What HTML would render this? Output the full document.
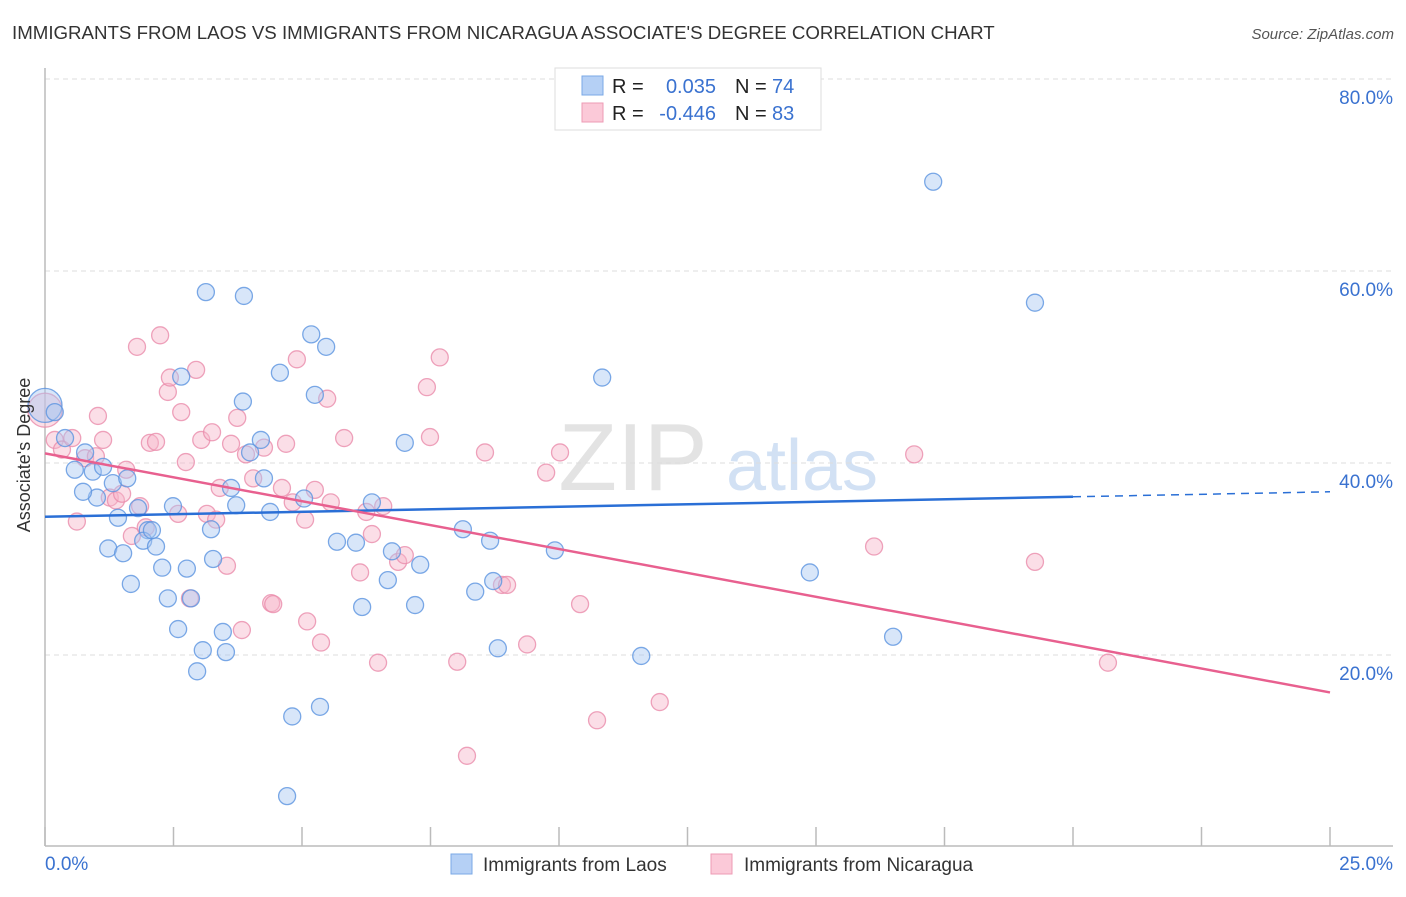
<!DOCTYPE html>
<html><head><meta charset="utf-8"><style>
body{margin:0;background:#fff;width:1406px;height:892px;overflow:hidden;font-family:"Liberation Sans",sans-serif}
svg text{font-family:"Liberation Sans",sans-serif}
</style></head><body>
<svg id="chart" width="1406" height="892">
<text x="12" y="39" font-size="18.7" fill="#333">IMMIGRANTS FROM LAOS VS IMMIGRANTS FROM NICARAGUA ASSOCIATE'S DEGREE CORRELATION CHART</text>
<text x="1394" y="39" font-size="15" fill="#555" font-style="italic" text-anchor="end">Source: ZipAtlas.com</text>
<g>
<text x="633" y="490" font-size="96" fill="#ddd" font-family="Liberation Serif" text-anchor="middle" opacity="0.8">ZIP</text>
<text x="802" y="490" font-size="72" fill="#c8daf2" text-anchor="middle" opacity="0.8">atlas</text>
</g>
<g id="grid"></g>
<g id="axes"></g>
<g id="points"></g>
<g id="lines"></g>
<text x="30" y="455" font-size="18" fill="#333" text-anchor="middle" transform="rotate(-90 30 455)">Associate's Degree</text>
<g>
<rect x="555" y="68" width="266" height="62" fill="#fff" stroke="#ddd"/>
<rect x="582" y="76" width="21" height="19" fill="#b5d0f5" stroke="#7aa8e6"/>
<rect x="582" y="103" width="21" height="19" fill="#fbc9d8" stroke="#ee9bb5"/>
<text x="612" y="93" font-size="20" fill="#222">R =</text>
<text x="716" y="93" font-size="20" fill="#3a72d0" text-anchor="end">0.035</text>
<text x="735" y="93" font-size="20" fill="#222">N =</text>
<text x="772" y="93" font-size="20" fill="#3a72d0">74</text>
<text x="612" y="120" font-size="20" fill="#222">R =</text>
<text x="716" y="120" font-size="20" fill="#3a72d0" text-anchor="end">-0.446</text>
<text x="735" y="120" font-size="20" fill="#222">N =</text>
<text x="772" y="120" font-size="20" fill="#3a72d0">83</text>
</g>
<g>
<rect x="451" y="854" width="21" height="20" fill="#b5d0f5" stroke="#7aa8e6"/>
<text x="483" y="871" font-size="19" fill="#333">Immigrants from Laos</text>
<rect x="711" y="854" width="21" height="20" fill="#fbc9d8" stroke="#ee9bb5"/>
<text x="744" y="871" font-size="19" fill="#333">Immigrants from Nicaragua</text>
</g>
</svg>
<script>
const xTicks=[0,2.5,5,7.5,10,12.5,15,17.5,20,22.5,25];
const yTicks=[20,40,60,80];
const yTickLabels=["20.0%","40.0%","60.0%","80.0%"];
const laosX=[0,0.19,0.39,0.58,0.78,0.93,1.13,1.01,0.74,1.32,1.60,1.42,1.23,1.52,1.67,1.81,2.00,1.91,2.08,2.16,2.28,2.39,2.49,2.59,2.65,2.76,2.84,2.96,3.07,3.13,3.23,3.27,3.46,3.52,3.62,3.72,3.85,3.87,3.99,4.20,4.26,4.38,4.57,4.71,4.81,5.04,5.18,5.25,5.35,5.47,5.68,6.05,6.17,6.36,6.67,6.75,7.00,7.20,7.30,8.13,8.37,8.66,8.72,8.81,9.92,10.84,11.60,14.88,16.50,17.28,19.26];
const laosY=[46.0,45.3,42.6,39.3,41.1,39.1,39.6,36.4,37.0,37.9,38.4,34.3,31.1,30.6,27.4,35.3,33.0,31.9,33.0,31.3,29.1,25.9,35.5,22.7,49.0,29.0,25.9,18.3,20.5,57.8,33.1,30.0,22.4,20.3,37.4,35.6,46.4,57.4,41.1,42.4,38.4,34.9,49.4,5.3,13.6,36.3,53.4,47.1,14.6,52.1,31.8,31.7,25.0,35.9,27.8,30.8,42.1,25.2,29.4,33.1,26.6,31.9,27.7,20.7,30.9,48.9,19.9,28.6,21.9,69.3,56.7];
const nicX=[0,0.19,0.33,0.53,0.62,0.78,0.99,1.03,1.13,1.26,1.38,1.50,1.58,1.69,1.85,2.04,1.96,2.16,2.24,1.79,2.39,2.43,2.59,2.65,2.74,2.82,2.94,3.04,3.15,3.25,3.33,3.40,3.54,3.62,3.74,3.83,3.91,4.05,4.26,4.40,4.44,4.61,4.69,4.82,4.90,5.06,5.10,5.25,5.37,5.49,5.56,5.82,6.13,6.25,6.36,6.48,6.58,6.87,7.00,7.43,7.49,7.68,8.02,8.21,8.56,8.89,8.99,9.38,9.75,10.02,10.41,10.74,11.96,16.13,16.91,19.26,20.68];
const nicY=[45.5,42.4,41.4,42.6,33.9,40.5,40.7,44.9,42.4,36.4,36.1,36.8,39.3,32.4,35.5,42.1,33.3,42.2,53.3,52.1,47.4,48.9,34.7,45.3,40.1,25.9,49.7,42.4,34.7,43.2,34.1,37.4,29.3,42.0,44.7,22.6,40.9,38.4,41.6,25.4,25.3,37.4,42.0,35.9,50.8,34.1,23.5,37.2,21.3,46.7,35.9,42.6,28.6,34.9,32.6,19.2,35.5,29.7,30.4,47.9,42.7,51.0,19.3,9.5,41.1,27.3,27.3,21.1,39.0,41.1,25.3,13.2,15.1,31.3,40.9,29.7,19.2];
const laosTrend=[34.4,37.0];
const nicTrend=[41.0,16.1];
const NS="http://www.w3.org/2000/svg";
const X=v=>45+v*51.4, Y=v=>847-v*9.6;
function mk(tag,attrs,parent){const e=document.createElementNS(NS,tag);for(const k in attrs)e.setAttribute(k,attrs[k]);parent.appendChild(e);return e;}
const grid=document.getElementById('grid'),axes=document.getElementById('axes'),pts=document.getElementById('points'),lines=document.getElementById('lines');
yTicks.forEach((t,i)=>{
 const g=mk('line',{x1:45,x2:1393,y1:Y(t),y2:Y(t),stroke:'#ddd','stroke-dasharray':'5,4'},grid);
 
 
 const l=mk('text',{x:1393,y:Y(t)+25,'font-size':19,fill:'#3a72d0','text-anchor':'end'},axes);
 l.textContent=yTickLabels[i];
 
 
});
const al=mk('line',{x1:45,x2:45,y1:68,y2:846,stroke:'#bbb','stroke-width':1.5},axes);


const bl=mk('line',{x1:45,x2:1393,y1:846,y2:846,stroke:'#bbb','stroke-width':1.5},axes);


xTicks.forEach(t=>{
 const tk=mk('line',{x1:X(t),x2:X(t),y1:827,y2:846,stroke:'#bbb','stroke-width':1.5},axes);
 
 
});
const x0=mk('text',{x:45,y:870,'font-size':19,fill:'#3a72d0'},axes);x0.textContent='0.0%';


const x1=mk('text',{x:1393,y:870,'font-size':19,fill:'#3a72d0','text-anchor':'end'},axes);x1.textContent='25.0%';


function drawPts(xs,ys,fill,stroke,name){
 xs.forEach((x,i)=>{
  const r=(x===0)?17:8.5;
  const c=mk('circle',{cx:X(x),cy:Y(ys[i]),r:r,fill:fill,'fill-opacity':0.45,stroke:stroke,'stroke-width':1.3,'stroke-opacity':0.8},pts);
  
  
 });
}
drawPts(nicX,nicY,'#f7b5ca','#ea8cab','point-nicaragua');
drawPts(laosX,laosY,'#a9c8f2','#5b93e0','point-laos');
const lt=mk('line',{x1:X(0),y1:Y(laosTrend[0]),x2:X(20),y2:Y(laosTrend[0]+(laosTrend[1]-laosTrend[0])*0.8),stroke:'#2a6fd6','stroke-width':2.5},lines);


const ld=mk('line',{x1:X(20),y1:Y(laosTrend[0]+(laosTrend[1]-laosTrend[0])*0.8),x2:X(25),y2:Y(laosTrend[1]),stroke:'#2a6fd6','stroke-width':1.5,'stroke-dasharray':'8,6'},lines);


const nt=mk('line',{x1:X(0),y1:Y(nicTrend[0]),x2:X(25),y2:Y(nicTrend[1]),stroke:'#e8608f','stroke-width':2.5},lines);


</script>
</body></html>
